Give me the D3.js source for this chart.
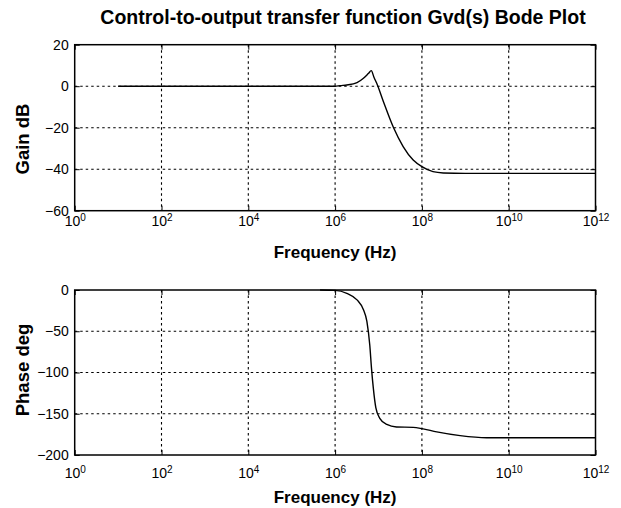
<!DOCTYPE html>
<html>
<head>
<meta charset="utf-8">
<script src="https://cdn.jsdelivr.net/npm/d3@7"></script>
<style>
  body { margin: 0; background: #fff; }
  svg { display: block; }
  .grid line { stroke: #000; stroke-width: 1.1; stroke-dasharray: 2.5,3; }
  .frame { fill: none; stroke: #000; stroke-width: 1.5; }
  .axis path { display: none; }
  .axis line { stroke: #000; stroke-width: 1; }
  .axis text { font-family: "Liberation Sans Narrow", "Arial Narrow", "Liberation Sans", sans-serif; font-size: 14px; fill: #000; }
  .lbl { font-family: "Liberation Sans", Arial, sans-serif; font-weight: bold; fill: #000; }
</style>
</head>
<body>
<div id="chart"></div>
<script>
// frequency ticks (Hz) and the exponents shown on them
const freqTicks = [1e0, 1e2, 1e4, 1e6, 1e8, 1e10, 1e12];
const freqExps = ["0", "2", "4", "6", "8", "10", "12"];

// gain trace
const gainFreq = [1e1, 1e5, 1e6, 1.3e6, 1.86e6, 3.2e6, 4.5e6, 5.9e6, 6.8e6, 7.9e6, 9.1e6,
  1.3e7, 2.2e7, 3.7e7, 6.3e7, 1.0e8, 1.8e8, 3.1e8, 1e9, 1e10, 1e12];
const gainDb = [0, 0, 0, 0.3, 0.6, 1.7, 3.8, 6.2, 7.5, 4.2, 1.4,
  -7.5, -19.8, -29.1, -35.6, -38.8, -41.2, -41.8, -42, -42, -42];
const gainTicks = [20, 0, -20, -40, -60];

// phase trace
const phaseFreq = [4.5e5, 1e6, 1.86e6, 3.2e6, 4.5e6, 5.4e6, 6.3e6, 6.9e6, 7.6e6, 8.7e6,
  1.07e7, 1.55e7, 2.6e7, 6.3e7, 1.0e8, 2.2e8, 7.6e8, 3.1e9, 1e10, 1e12];
const phaseDeg = [0, -0.5, -4, -12, -24, -38, -67, -95, -119, -143,
  -155.5, -163, -166, -166.5, -168, -172, -176.5, -179, -179, -179];
const phaseTicks = [0, -50, -100, -150, -200];

const W = 621, H = 508;
const left = 74.7, right = 595.5;

const svg = d3.select("#chart").append("svg")
  .attr("width", W)
  .attr("height", H);

const x = d3.scaleLog()
  .domain([1e0, 1e12])
  .range([left, right]);

svg.append("text")
  .attr("class", "lbl")
  .attr("x", 343)
  .attr("y", 24)
  .attr("text-anchor", "middle")
  .style("font-size", "19.5px")
  .text("Control-to-output transfer function Gvd(s) Bode Plot");

function panel(cfg) {
  const y = d3.scaleLinear()
    .domain(cfg.domain)
    .range([cfg.bottom, cfg.top]);

  const g = svg.append("g");

  // dotted grid
  const grid = g.append("g").attr("class", "grid");
  grid.selectAll(".gx")
    .data(freqTicks.slice(1, -1))
    .join("line")
    .attr("x1", d => x(d)).attr("x2", d => x(d))
    .attr("y1", cfg.top).attr("y2", cfg.bottom);
  grid.selectAll(".gy")
    .data(cfg.ticks.slice(1, -1))
    .join("line")
    .attr("x1", left).attr("x2", right)
    .attr("y1", d => y(d)).attr("y2", d => y(d));

  // axes, ticks pointing inward like matlab
  const xb = g.append("g")
    .attr("class", "axis")
    .attr("transform", `translate(0,${cfg.bottom})`)
    .call(d3.axisBottom(x).tickValues(freqTicks).tickSize(-5).tickPadding(cfg.xPad).tickFormat(""));
  xb.selectAll(".tick text")
    .each(function (d, i) {
      const t = d3.select(this);
      t.append("tspan").text("10");
      t.append("tspan")
        .attr("dy", "-0.5em")
        .style("font-size", "10px")
        .text(freqExps[i]);
    });

  g.append("g")
    .attr("class", "axis")
    .attr("transform", `translate(0,${cfg.top})`)
    .call(d3.axisTop(x).tickValues(freqTicks).tickSize(-5).tickFormat(""));

  g.append("g")
    .attr("class", "axis")
    .attr("transform", `translate(${left},0)`)
    .call(d3.axisLeft(y).tickValues(cfg.ticks).tickSize(-5).tickPadding(6));

  g.append("g")
    .attr("class", "axis")
    .attr("transform", `translate(${right},0)`)
    .call(d3.axisRight(y).tickValues(cfg.ticks).tickSize(-5).tickFormat(""));

  g.append("rect")
    .attr("class", "frame")
    .attr("x", left).attr("y", cfg.top)
    .attr("width", right - left).attr("height", cfg.bottom - cfg.top);

  // the trace
  g.append("path")
    .datum(d3.zip(cfg.freq, cfg.vals))
    .attr("fill", "none")
    .attr("stroke", "#000")
    .attr("stroke-width", 1.4)
    .attr("d", d3.line()
      .x(d => x(d[0]))
      .y(d => y(d[1]))
      .curve(d3.curveMonotoneX));

  g.append("text")
    .attr("class", "lbl")
    .attr("x", (left + right) / 2)
    .attr("y", cfg.xLabelY)
    .attr("text-anchor", "middle")
    .style("font-size", "17px")
    .text("Frequency (Hz)");

  g.append("text")
    .attr("class", "lbl")
    .attr("transform", `translate(28.5,${cfg.yLabelMid}) rotate(-90)`)
    .attr("text-anchor", "middle")
    .style("font-size", "18.5px")
    .text(cfg.yLabel);
}

panel({
  top: 44.7, bottom: 210.7, domain: [-60, 20], ticks: gainTicks,
  freq: gainFreq, vals: gainDb, xPad: 5.5, xLabelY: 258,
  yLabel: "Gain dB", yLabelMid: 139
});

panel({
  top: 290, bottom: 455, domain: [-200, 0], ticks: phaseTicks,
  freq: phaseFreq, vals: phaseDeg, xPad: 13, xLabelY: 503,
  yLabel: "Phase deg", yLabelMid: 370
});
</script>
</body>
</html>
